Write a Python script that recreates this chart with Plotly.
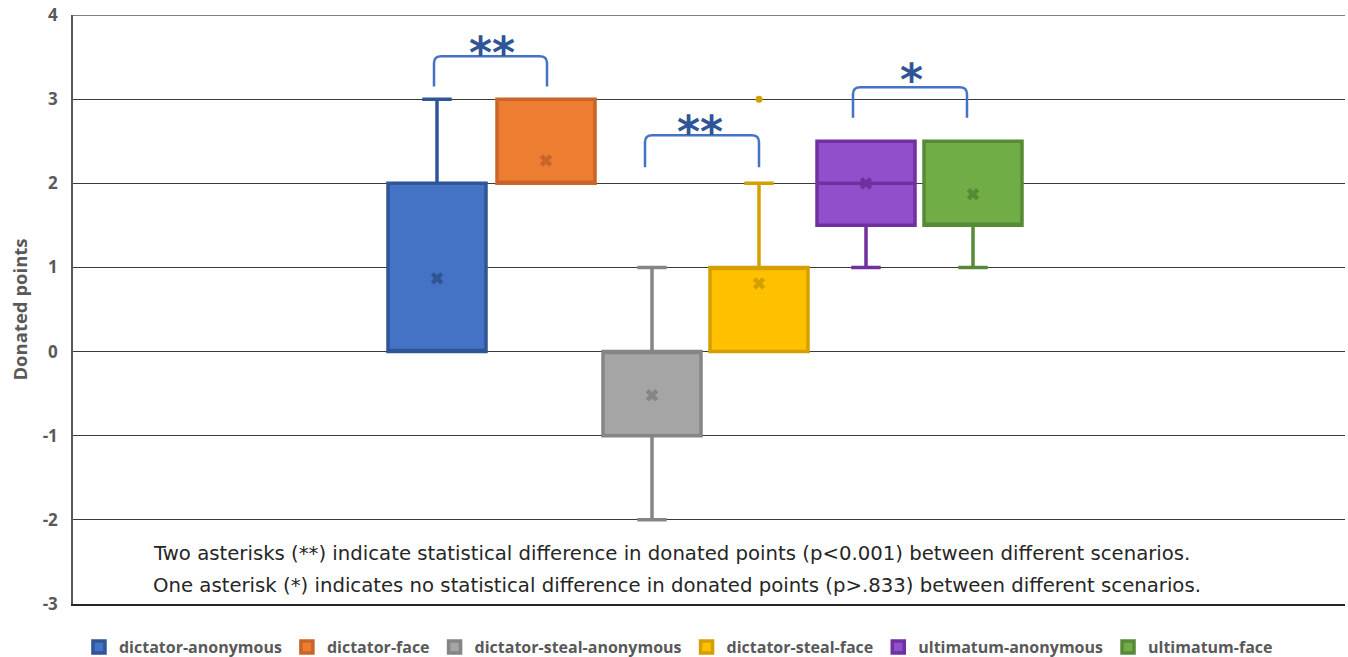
import plotly.graph_objects as go

# ---- data ----
series = ["dictator-anonymous", "dictator-face", "dictator-steal-anonymous",
          "dictator-steal-face", "ultimatum-anonymous", "ultimatum-face"]
lower_fence = [0, 2, -2, 0, 1, 1]
q1 = [0, 2, -1, 0, 1.5, 1.5]
median = [0, 2, 0, 1, 2, 1.5]
q3 = [2, 3, 0, 1, 2.5, 2.5]
upper_fence = [3, 3, 1, 2, 2.5, 2.5]
means = [0.87, 2.27, -0.52, 0.81, 2.0, 1.87]
outlier_series = ["dictator-steal-face"]
outlier_values = [3]
y_ticks = [-3, -2, -1, 0, 1, 2, 3, 4]
y_tick_labels = ["-3", "-2", "-1", "0", "1", "2", "3", "4"]

fills = ["#4472C4", "#ED7D31", "#A5A5A5", "#FFC000", "#9150CB", "#70AD47"]
lines = ["#2F5597", "#C9642A", "#858585", "#D4A000", "#7030A0", "#568A36"]
mean_cols = ["#2F5597", "#C9642A", "#858585", "#D4A000", "#7030A0", "#568A36"]

# layout constants (pixel geometry of the reference)
L, R, T, B = 73, 3, 15, 53
W, H = 1348, 657
pw = W - L - R
ph = H - T - B


def px2x(p):
    return (p - L) / pw


centers_px = [437, 546, 652, 759, 866, 973]
pos = [px2x(c) for c in centers_px]
box_w = 98 / pw

fig = go.Figure()
for i, name in enumerate(series):
    fig.add_trace(go.Box(
        name=name, x=[pos[i]], q1=[q1[i]], median=[median[i]], q3=[q3[i]],
        lowerfence=[lower_fence[i]], upperfence=[upper_fence[i]],
        width=box_w, whiskerwidth=0.3, boxpoints=False,
        fillcolor=fills[i], line=dict(color=lines[i], width=3.5),
        showlegend=True, hoverinfo="skip"))
for i, name in enumerate(series):
    fig.add_trace(go.Scatter(
        x=[pos[i]], y=[means[i]], mode="markers", showlegend=False,
        marker=dict(symbol="x", size=11, color=mean_cols[i], line=dict(width=0)),
        hoverinfo="skip"))
for s, v in zip(outlier_series, outlier_values):
    i = series.index(s)
    fig.add_trace(go.Scatter(
        x=[pos[i]], y=[v], mode="markers", showlegend=False,
        marker=dict(symbol="circle", size=7, color=lines[i]), hoverinfo="skip"))

# top border line of plot area
fig.add_shape(type="line", xref="paper", yref="y", x0=0, x1=1, y0=max(y_ticks), y1=max(y_ticks),
              line=dict(color="#7f7f7f", width=2))

# brackets
brackets = [(434, 547, 3.51, 3.15), (645, 759, 2.57, 2.19), (853, 967, 3.14, 2.78)]
for xl, xr, yt, yb in brackets:
    x0, x1 = px2x(xl), px2x(xr)
    r = 0.006
    ry = 0.08
    path = (f"M {x0},{yb} L {x0},{yt-ry} Q {x0},{yt} {x0+r},{yt} "
            f"L {x1-r},{yt} Q {x1},{yt} {x1},{yt-ry} L {x1},{yb}")
    fig.add_shape(type="path", path=path, xref="x", yref="y",
                  line=dict(color="#4472C4", width=2.5))

stars = [("**", 492, 3.56), ("**", 700, 2.61), ("*", 911, 3.23)]
for txt, xp, yv in stars:
    fig.add_annotation(x=px2x(xp), y=yv, text=txt, showarrow=False,
                       font=dict(size=44, color="#2F5597", family="DejaVu Sans", weight="bold"),
                       xanchor="center", yanchor="middle")

notes = ["Two asterisks (**) indicate statistical difference in donated points (p<0.001) between different scenarios.",
         "One asterisk (*) indicates no statistical difference in donated points (p>.833) between different scenarios."]
for k, t in enumerate(notes):
    fig.add_annotation(x=px2x(151), y=-2.40 - 0.385 * k, text=t, showarrow=False,
                       xanchor="left", yanchor="middle",
                       font=dict(size=19.7, color="#262626", family="DejaVu Sans"))

fig.update_layout(
    width=W, height=H, margin=dict(l=L, r=R, t=T, b=B, autoexpand=False),
    plot_bgcolor="white", paper_bgcolor="white",
    font=dict(family="Open Sans", color="#595959"),
    boxmode="overlay",
    legend=dict(orientation="h", x=0.476, xanchor="center", y=-(647 - (H - B)) / ph,
                yanchor="middle",
                font=dict(size=16, color="#595959", family="Open Sans", weight="bold"),
                itemwidth=30, tracegroupgap=0),
    xaxis=dict(range=[0, 1], showticklabels=False, showgrid=False, zeroline=False,
               showline=True, linecolor="#262626", linewidth=1.5, fixedrange=True),
    yaxis=dict(range=[-3, 4], tickvals=y_ticks, ticktext=y_tick_labels, showgrid=True,
               gridcolor="#3a3a3a", automargin=False,
               gridwidth=1, zeroline=False, showline=True, linecolor="#595959",
               linewidth=1.5, ticks="", ticklabelstandoff=10,
               tickfont=dict(size=17, color="#595959", family="Open Sans", weight="bold"),
               title=dict(text="Donated points", standoff=10,
                          font=dict(size=18.5, color="#595959", family="Open Sans", weight="bold"))),
)
fig.write_html("out.html", post_script="document.body.style.margin='0';",
               config={"displayModeBar": False})
